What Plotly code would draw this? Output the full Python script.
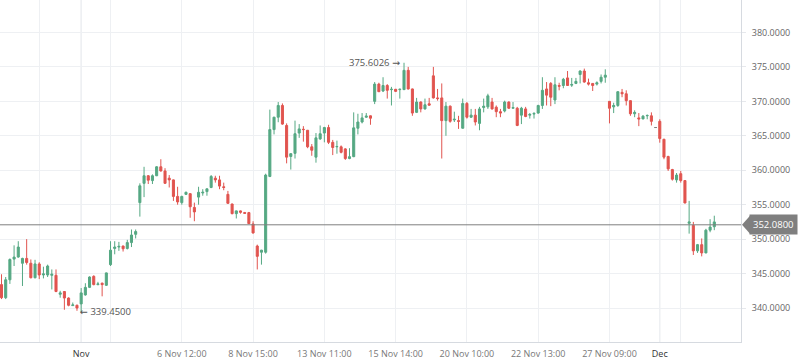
import plotly.graph_objects as go

# ---- data (hourly bars, indexed by bar number) ----
opens = [343.4,341.5,344.1,347.1,347.4,346.5,347.2,346.5,344.4,346.4,
         344.8,344.8,344.75,344.75,342.0,342.4,341.45,340.35,340.4,340.6,
         341.9,343.0,344.6,343.4,343.6,343.3,346.3,348.65,348.85,349.0,
         348.65,349.5,350.7,355.3,358.1,359.2,358.5,359.2,360.5,359.9,
         358.85,358.6,356.2,355.3,356.5,356.6,354.6,356.1,356.7,356.9,
         357.5,358.85,358.6,357.6,356.5,355.1,353.7,354.1,353.85,353.85,
         352.2,349.0,348.1,348.1,359.1,365.9,367.7,369.4,366.5,362.0,
         362.45,365.4,365.95,365.8,363.4,361.9,364.55,365.4,366.2,364.05,
         363.4,363.4,363.1,361.7,361.97,366.1,367.0,367.7,367.9,370.0,
         372.5,371.5,372.3,371.7,371.75,371.7,371.7,374.5,371.8,368.4,
         369.9,368.9,369.65,373.7,370.5,370.5,367.2,369.3,367.3,367.2,
         366.1,369.7,367.7,368.0,366.8,369.1,369.2,369.9,369.15,368.5,
         368.6,369.9,369.0,369.0,368.0,368.9,368.0,368.15,368.3,369.4,
         371.8,372.6,370.2,372.3,372.3,373.4,372.35,372.6,373.9,374.4,
         372.7,372.6,372.5,372.9,373.5,370.0,369.2,369.4,371.3,371.1,
         370.1,368.2,367.6,367.45,367.9,367.9,366.2,367.1,364.5,362.0,
         360.1,358.6,359.5,358.5,352.3,352.0,348.3,349.2,348.0,351.3,
         351.8]
highs = [344.9,344.5,347.2,349.1,349.7,347.3,350.0,347.05,347.0,346.65,
         346.0,346.3,345.6,345.6,342.5,342.4,341.55,340.8,340.5,342.9,
         343.6,344.6,344.75,343.8,343.7,345.15,349.7,349.7,349.6,349.05,
         349.9,351.4,351.4,358.1,360.5,359.3,359.4,360.6,361.6,360.3,
         359.3,358.65,357.6,356.3,356.9,356.65,355.3,357.6,357.25,357.35,
         359.3,359.2,359.2,358.2,357.0,355.15,354.15,354.15,353.95,353.95,
         352.6,349.2,348.45,359.5,368.8,367.75,369.9,369.7,366.8,362.5,
         367.2,366.7,366.4,365.85,363.8,365.4,366.5,366.3,366.6,364.4,
         364.3,363.6,363.2,363.2,368.4,368.2,368.3,368.3,367.95,372.8,
         372.7,373.5,372.5,372.1,371.8,371.85,375.6026,375.0,371.85,370.5,
         370.0,370.4,370.5,375.0,371.8,372.6,369.9,369.4,368.5,367.9,
         370.4,369.9,368.9,368.9,369.2,370.4,371.1,370.5,369.4,368.9,
         370.1,370.0,369.9,369.2,369.2,369.2,368.3,368.4,369.5,373.5,
         372.8,372.8,373.5,372.7,373.4,374.4,373.4,373.4,374.5,374.75,
         373.3,372.65,372.9,373.9,374.65,370.05,369.8,371.45,371.8,371.6,
         370.15,368.7,368.3,368.0,368.1,368.4,366.2,367.4,364.55,362.1,
         360.2,359.6,359.9,358.55,355.55,352.5,349.3,350.1,351.5,352.9,
         353.4]
lows = [341.3,341.3,343.5,346.1,347.3,343.2,346.3,344.3,344.3,344.2,
        344.3,344.5,342.7,342.3,341.5,339.75,340.25,340.3,339.6,339.45,
        341.8,342.9,343.3,343.3,341.7,343.2,346.1,347.8,348.3,348.2,
        348.5,348.85,350.1,353.27,356.1,358.0,358.0,359.15,359.8,358.05,
        357.5,355.55,355.0,355.0,356.4,353.1,352.6,355.0,356.3,356.3,
        357.4,358.2,357.25,357.1,355.1,353.6,353.0,353.7,353.7,352.2,
        350.8,345.6,346.3,347.9,359.0,365.2,366.97,366.6,361.0,360.1,
        361.7,364.7,364.15,363.2,362.1,361.1,364.4,364.05,363.8,362.2,
        362.4,362.45,361.5,361.6,361.9,365.2,366.8,367.6,366.6,369.6,
        371.35,371.35,370.4,369.4,371.35,370.4,371.65,371.7,367.9,368.3,
        368.4,368.8,369.4,370.4,370.1,361.7,365.0,366.9,367.0,366.0,
        366.05,367.5,367.6,366.5,365.8,368.4,368.9,368.8,367.7,367.7,
        368.4,368.9,368.95,366.4,366.7,367.7,367.5,367.5,368.2,368.9,
        369.4,369.3,369.6,371.6,371.9,372.25,372.1,372.5,372.6,372.7,
        372.3,371.5,372.3,372.6,372.7,366.8,368.3,369.2,370.6,369.4,
        367.9,367.7,366.4,367.4,367.4,366.5,366.2,364.0,361.6,359.9,
        358.5,358.2,358.2,355.2,350.8,347.7,348.0,347.5,347.95,351.0,
        351.3]
closes = [341.5,344.1,347.05,347.4,348.85,347.2,346.6,344.4,346.4,344.8,
          344.95,346.1,344.9,342.4,342.2,341.45,340.4,340.45,340.0,342.2,
          343.0,344.5,343.4,343.5,343.4,345.1,348.4,348.85,348.95,348.6,
          349.5,350.6,351.1,357.74,359.2,358.55,359.2,360.5,359.9,358.1,
          358.6,356.2,355.4,356.2,356.8,354.7,353.95,356.8,356.8,357.3,
          359.1,358.6,357.7,357.5,355.2,353.7,354.1,353.9,353.75,352.25,
          350.9,347.5,348.4,359.3,365.9,367.7,369.4,366.7,361.9,362.4,
          365.3,366.0,365.9,363.4,362.9,364.7,365.3,366.2,364.05,363.3,
          363.45,362.6,361.7,361.97,366.15,367.0,367.6,367.85,367.55,372.5,
          371.4,372.3,371.6,371.75,371.45,371.75,374.5,371.8,368.3,369.9,
          368.9,369.5,369.45,370.5,370.4,367.2,369.3,367.1,367.4,367.1,
          369.7,367.7,368.0,367.0,368.9,369.3,370.8,368.9,368.5,368.3,
          369.9,369.0,369.1,366.5,369.0,367.8,368.1,368.25,369.4,371.6,
          370.9,370.6,372.4,372.2,373.2,372.3,372.45,372.9,374.4,372.8,
          372.5,372.3,372.7,373.5,373.8,369.0,369.4,371.4,371.1,370.1,
          368.2,368.4,367.45,367.85,367.95,367.1,366.2,364.6,361.9,360.2,
          358.7,359.3,358.5,355.25,352.5,348.3,349.2,348.0,351.3,351.75,
          352.5]
bars = list(range(len(opens)))

last_price = 352.08
high_bar, high_val = 96, 375.6026
low_bar, low_val = 19, 339.45

tick_bars = [9, 19, 26, 43, 60, 77, 94, 111, 128, 145, 157, 162]
tick_text = ["", "Nov", "", "6 Nov 12:00", "8 Nov 15:00", "13 Nov 11:00",
             "15 Nov 14:00", "20 Nov 10:00", "22 Nov 13:00", "27 Nov 09:00",
             "Dec", ""]
month_bars = [19, 157]

y_ticks = [340, 345, 350, 355, 360, 365, 370, 375, 380]

GREEN = "#55a883"
RED = "#e1544f"
GREY = "#7f7f7f"

# split regular bars and flat (doji) bars
reg = [i for i in bars if opens[i] != closes[i]]
flat = [i for i in bars if opens[i] == closes[i]]

fig = go.Figure()
fig.add_trace(go.Candlestick(
    x=[bars[i] for i in reg],
    open=[opens[i] for i in reg], high=[highs[i] for i in reg],
    low=[lows[i] for i in reg], close=[closes[i] for i in reg],
    increasing=dict(line=dict(color=GREEN, width=1), fillcolor=GREEN),
    decreasing=dict(line=dict(color=RED, width=1), fillcolor=RED),
    whiskerwidth=0, hoverinfo="skip", showlegend=False,
))
if flat:
    fig.add_trace(go.Candlestick(
        x=[bars[i] for i in flat],
        open=[opens[i] for i in flat], high=[highs[i] for i in flat],
        low=[lows[i] for i in flat], close=[closes[i] for i in flat],
        increasing=dict(line=dict(color=GREY, width=1), fillcolor=GREY),
        decreasing=dict(line=dict(color=GREY, width=1), fillcolor=GREY),
        whiskerwidth=0, hoverinfo="skip", showlegend=False,
    ))

shapes = []
for b in month_bars:
    shapes.append(dict(type="line", xref="x", yref="paper", x0=b, x1=b, y0=0, y1=1,
                       line=dict(color="#dcdfe4", width=1), layer="below"))
shapes.append(dict(type="line", xref="paper", yref="y", x0=0, x1=1,
                   y0=last_price, y1=last_price, line=dict(color=GREY, width=1)))
shapes.append(dict(type="path", xref="paper", yref="y", xsizemode="pixel",
                   ysizemode="pixel", xanchor=1, yanchor=last_price,
                   path="M1,0 L9,9 L9,-9 Z", fillcolor=GREY, line=dict(width=0)))

ARROW = '<span style="font-family:DejaVu Sans">{}</span>'

annotations = [
    dict(xref="paper", yref="y", x=1, y=last_price, xanchor="left", yanchor="middle",
         xshift=8, text=f"{last_price:.4f}", showarrow=False, bgcolor=GREY,
         borderpad=3, font=dict(family="Open Sans", size=9.5, color="white")),
    dict(xref="x", yref="y", x=high_bar, y=high_val, xanchor="right", yanchor="middle",
         xshift=-2, text=f"{high_val:.4f} " + ARROW.format("→"), showarrow=False,
         font=dict(family="Open Sans", size=9.5, color="#555")),
    dict(xref="x", yref="y", x=low_bar, y=low_val, xanchor="left", yanchor="middle",
         xshift=-3, text=ARROW.format("←") + f" {low_val:.4f}", showarrow=False,
         font=dict(family="Open Sans", size=9.5, color="#555")),
]

tick_labels = [f'<span style="color:#333">{t}</span>' if t in ("Nov", "Dec") else t
               for t in tick_text]

fig.update_layout(
    width=798, height=363,
    margin=dict(l=0, r=57, t=0, b=21, autoexpand=False),
    paper_bgcolor="white", plot_bgcolor="white",
    font=dict(family="Open Sans", size=9, color="#777"),
    shapes=shapes, annotations=annotations,
    xaxis=dict(
        range=[-0.358, 176.37], rangeslider=dict(visible=False),
        tickmode="array", tickvals=tick_bars, ticktext=tick_labels,
        showgrid=True, gridcolor="#eef0f3", gridwidth=1,
        showline=True, linecolor="#d6dae0", linewidth=1,
        ticks="", zeroline=False, ticklabelstandoff=3,
        tickfont=dict(family="Open Sans", size=9, color="#777"),
    ),
    yaxis=dict(
        range=[335.07, 384.71], side="right",
        tickmode="array", tickvals=y_ticks, tickformat=".4f",
        showgrid=True, gridcolor="#eef0f3", gridwidth=1,
        showline=True, linecolor="#d6dae0", linewidth=1,
        ticks="outside", ticklen=4, tickcolor="#e6e8ec",
        zeroline=False, ticklabelstandoff=4,
        tickfont=dict(family="Open Sans", size=9, color="#666"),
    ),
)

fig.write_html("out.html", config={"displayModeBar": False},
               post_script="document.body.style.margin='0';document.body.style.overflow='hidden';")
